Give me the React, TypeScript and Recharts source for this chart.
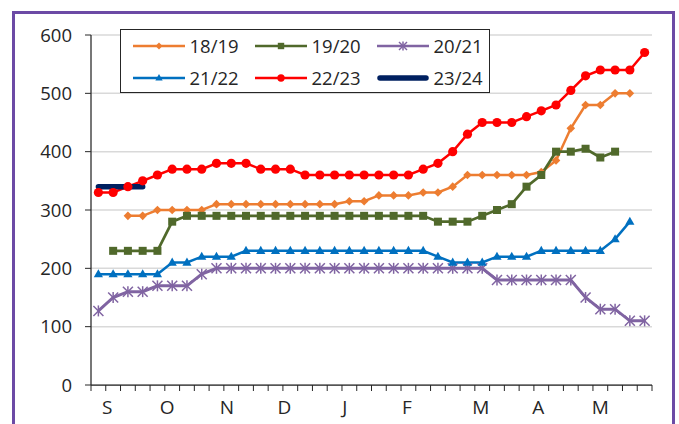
import React from 'react'
import { LineChart, Line, XAxis, YAxis, CartesianGrid, Legend } from 'recharts'

// weekly values by season, Sept -> May (38 weeks)
const s1819 = [null, null, 290, 290, 300, 300, 300, 300, 310, 310, 310, 310, 310, 310, 310, 310, 310, 315, 315, 325, 325, 325, 330, 330, 340, 360, 360, 360, 360, 360, 365, 385, 440, 480, 480, 500, 500, null]
const s1920 = [null, 230, 230, 230, 230, 280, 290, 290, 290, 290, 290, 290, 290, 290, 290, 290, 290, 290, 290, 290, 290, 290, 290, 280, 280, 280, 290, 300, 310, 340, 360, 400, 400, 405, 390, 400, null, null]
const s2021 = [127, 150, 160, 160, 170, 170, 170, 190, 200, 200, 200, 200, 200, 200, 200, 200, 200, 200, 200, 200, 200, 200, 200, 200, 200, 200, 200, 180, 180, 180, 180, 180, 180, 150, 130, 130, 110, 110]
const s2122 = [190, 190, 190, 190, 190, 210, 210, 220, 220, 220, 230, 230, 230, 230, 230, 230, 230, 230, 230, 230, 230, 230, 230, 220, 210, 210, 210, 220, 220, 220, 230, 230, 230, 230, 230, 250, 280, null]
const s2223 = [330, 330, 340, 350, 360, 370, 370, 370, 380, 380, 380, 370, 370, 370, 360, 360, 360, 360, 360, 360, 360, 360, 370, 380, 400, 430, 450, 450, 450, 460, 470, 480, 505, 530, 540, 540, 540, 570]
const s2324 = [340, 340, 340, 340, null, null, null, null, null, null, null, null, null, null, null, null, null, null, null, null, null, null, null, null, null, null, null, null, null, null, null, null, null, null, null, null, null, null]

const yTicks = [0, 100, 200, 300, 400, 500, 600]
const monthLabels = ['S', 'O', 'N', 'D', 'J', 'F', 'M', 'A', 'M']
const monthTickWeeks = [1.1, 5.15, 9.2, 13.1, 17.2, 21.4, 26.4, 30.3, 34.5]
const weekTicks = Array.from({ length: 39 }, (_, i) => i)

const data = s2223.map((_, i) => ({
  week: i + 0.5,
  s1819: s1819[i],
  s1920: s1920[i],
  s2021: s2021[i],
  s2122: s2122[i],
  s2223: s2223[i],
  s2324: s2324[i],
}))

type Marker = 'diamond' | 'square' | 'star' | 'triangle' | 'circle' | 'none'

const series: { key: string; name: string; color: string; marker: Marker; width: number }[] = [
  { key: 's1819', name: '18/19', color: '#ED7D31', marker: 'diamond', width: 2.5 },
  { key: 's1920', name: '19/20', color: '#50692B', marker: 'square', width: 2.75 },
  { key: 's2021', name: '20/21', color: '#8064A2', marker: 'star', width: 3 },
  { key: 's2122', name: '21/22', color: '#0070C0', marker: 'triangle', width: 2.5 },
  { key: 's2223', name: '22/23', color: '#FF0000', marker: 'circle', width: 2.5 },
  { key: 's2324', name: '23/24', color: '#002060', marker: 'none', width: 5.5 },
]

const ink = '#262626'
const font = '"Open Sans", sans-serif'

function MarkerShape({ cx, cy, marker, color, scale = 1 }: { cx: number; cy: number; marker: Marker; color: string; scale?: number }) {
  const s = scale
  switch (marker) {
    case 'diamond':
      return <polygon points={`${cx},${cy - 4.3 * s} ${cx + 4.3 * s},${cy} ${cx},${cy + 4.3 * s} ${cx - 4.3 * s},${cy}`} fill={color} />
    case 'square':
      return <rect x={cx - 4 * s} y={cy - 4 * s} width={8 * s} height={8 * s} fill={color} />
    case 'triangle':
      return <polygon points={`${cx},${cy - 5 * s} ${cx + 4.6 * s},${cy + 3.2 * s} ${cx - 4.6 * s},${cy + 3.2 * s}`} fill={color} />
    case 'circle':
      return <circle cx={cx} cy={cy} r={4.6 * s} fill={color} />
    case 'star':
      return (
        <g stroke={color} strokeWidth={1.5}>
          <line x1={cx - 5 * s} y1={cy - 5 * s} x2={cx + 5 * s} y2={cy + 5 * s} />
          <line x1={cx - 5 * s} y1={cy + 5 * s} x2={cx + 5 * s} y2={cy - 5 * s} />
          <line x1={cx} y1={cy - 5.5 * s} x2={cx} y2={cy + 5.5 * s} />
        </g>
      )
    default:
      return null
  }
}

const makeDot = (marker: Marker, color: string) => (props: any) => {
  const { cx, cy, index } = props
  if (cx == null || cy == null || Number.isNaN(cy)) return <g key={`d-${index}`} />
  return (
    <g key={`d-${index}`}>
      <MarkerShape cx={cx} cy={cy} marker={marker} color={color} />
    </g>
  )
}

function LegendBox() {
  return (
    <div
      style={{
        boxSizing: 'border-box',
        width: 370,
        height: 64,
        border: `1.5px solid ${ink}`,
        background: '#fff',
        paddingLeft: 11.5,
        display: 'grid',
        gridTemplateColumns: '122px 122px 122px',
        gridTemplateRows: '32px 32px',
        alignItems: 'center',
        fontFamily: font,
        fontSize: 18.5,
        color: ink,
        lineHeight: 1,
      }}
    >
      {series.map((s) => (
        <div key={s.key} style={{ display: 'flex', alignItems: 'center' }}>
          <svg width={52} height={14} style={{ marginRight: 5 }}>
            <line x1={s.marker === 'none' ? 3 : 0} y1={7} x2={s.marker === 'none' ? 49 : 52} y2={7} stroke={s.color} strokeWidth={s.marker === 'none' ? 5.5 : 2.5} strokeLinecap={s.marker === 'none' ? 'round' : 'butt'} />
            <MarkerShape cx={26} cy={7} marker={s.marker} color={s.color} scale={0.8} />
          </svg>
          <span>{s.name}</span>
        </div>
      ))}
    </div>
  )
}

export default function App() {
  return (
    <div style={{ position: 'absolute', left: 0, top: 0, width: 679, height: 424, overflow: 'hidden', background: '#fff', fontFamily: font }}>
      <LineChart width={679} height={424} data={data} margin={{ top: 35, right: 27, bottom: 0, left: 0 }}>
        <CartesianGrid xAxisId="a" vertical={false} stroke="#D9D9D9" strokeWidth={1.5} />
        <XAxis
          xAxisId="a"
          dataKey="week"
          type="number"
          domain={[0, 38]}
          ticks={weekTicks}
          interval={0}
          tickFormatter={() => ''}
          tickSize={6}
          height={7}
          axisLine={{ stroke: ink, strokeWidth: 1.25 }}
          tickLine={{ stroke: ink, strokeWidth: 1 }}
        />
        <XAxis
          xAxisId="b"
          dataKey="week"
          type="number"
          domain={[0, 38]}
          ticks={monthTickWeeks}
          interval={0}
          tickFormatter={(v: number) => monthLabels[monthTickWeeks.indexOf(v)] ?? ''}
          axisLine={false}
          tickLine={false}
          tickSize={0}
          tickMargin={9}
          height={32}
          tick={{ fill: ink, fontSize: 19, fontFamily: font }}
        />
        <YAxis
          domain={[0, 600]}
          ticks={yTicks}
          interval={0}
          width={91}
          tickSize={6}
          tickMargin={13}
          axisLine={{ stroke: ink, strokeWidth: 1.25 }}
          tickLine={{ stroke: ink, strokeWidth: 1 }}
          tick={{ fill: ink, fontSize: 18.5, fontFamily: font }}
        />
        <Legend
          layout="horizontal"
          verticalAlign="middle"
          align="center"
          wrapperStyle={{ left: 120, top: 29, width: 370, height: 64 }}
          content={() => <LegendBox />}
        />
        {series.map((s) => (
          <Line
            key={s.key}
            xAxisId="a"
            dataKey={s.key}
            name={s.name}
            stroke={s.color}
            strokeWidth={s.width}
            strokeLinecap={s.marker === 'none' ? 'round' : 'butt'}
            dot={s.marker === 'none' ? false : makeDot(s.marker, s.color)}
            activeDot={false}
            isAnimationActive={false}
          />
        ))}
      </LineChart>
      <div
        style={{
          position: 'absolute',
          left: 12,
          top: 11,
          width: 663,
          height: 500,
          boxSizing: 'border-box',
          border: '3px solid #6C4AA5',
          pointerEvents: 'none',
        }}
      />
    </div>
  )
}
